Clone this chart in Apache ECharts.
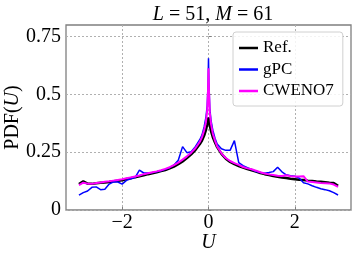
<!DOCTYPE html>
<html>
<head>
<meta charset="utf-8">
<script src="https://cdn.jsdelivr.net/npm/echarts@6/dist/echarts.min.js"></script>
<style>html,body{margin:0;padding:0;background:#fff}#c{width:354px;height:260px}</style>
</head>
<body>
<div id="c"></div>
<script>
const U = [-3.0,-2.9,-2.8,-2.7,-2.6,-2.5,-2.4,-2.3,-2.2,-2.1,-2.0,-1.9,-1.8,-1.7,-1.6,-1.5,-1.4,-1.3,-1.2,-1.1,-1.0,-0.9,-0.8,-0.7,-0.6,-0.5,-0.4,-0.3,-0.2,-0.15,-0.1,-0.06,-0.03,-0.01,0,0.01,0.03,0.06,0.1,0.15,0.2,0.3,0.4,0.5,0.6,0.7,0.8,0.9,1.0,1.1,1.2,1.3,1.4,1.5,1.6,1.7,1.8,1.9,2.0,2.1,2.2,2.3,2.4,2.5,2.6,2.7,2.8,2.9,3.0];
const refPDF = [0.112,0.124,0.114,0.113,0.116,0.118,0.119,0.121,0.124,0.126,0.129,0.134,0.137,0.142,0.146,0.150,0.155,0.159,0.163,0.168,0.173,0.180,0.188,0.198,0.210,0.225,0.241,0.260,0.285,0.300,0.322,0.345,0.370,0.390,0.400,0.390,0.365,0.340,0.315,0.292,0.272,0.243,0.222,0.208,0.198,0.190,0.183,0.177,0.172,0.166,0.160,0.155,0.151,0.147,0.144,0.141,0.138,0.135,0.133,0.131,0.130,0.127,0.125,0.123,0.122,0.120,0.118,0.117,0.105];
const gpcPDF = [0.064,0.075,0.082,0.098,0.100,0.088,0.090,0.112,0.122,0.121,0.112,0.128,0.135,0.140,0.172,0.160,0.160,0.162,0.165,0.170,0.176,0.183,0.195,0.215,0.274,0.248,0.252,0.275,0.305,0.325,0.360,0.400,0.450,0.550,0.656,0.550,0.440,0.385,0.345,0.310,0.285,0.265,0.258,0.258,0.300,0.205,0.192,0.183,0.175,0.166,0.162,0.159,0.162,0.166,0.185,0.165,0.152,0.148,0.146,0.138,0.118,0.113,0.105,0.098,0.092,0.088,0.083,0.075,0.065];
const cwenoPDF = [0.108,0.118,0.114,0.113,0.117,0.119,0.122,0.124,0.127,0.130,0.133,0.137,0.141,0.145,0.149,0.155,0.159,0.163,0.167,0.172,0.178,0.185,0.194,0.205,0.218,0.232,0.248,0.268,0.295,0.315,0.345,0.380,0.430,0.520,0.613,0.520,0.420,0.370,0.330,0.300,0.275,0.245,0.225,0.212,0.203,0.195,0.186,0.180,0.176,0.170,0.163,0.158,0.154,0.151,0.148,0.147,0.150,0.146,0.145,0.145,0.146,0.123,0.121,0.119,0.117,0.116,0.115,0.110,0.100];
const xTicks = [-2, 0, 2];
const yTicks = [0, 0.25, 0.5, 0.75];
const seriesNames = ['Ref.', 'gPC', 'CWENO7'];

const pair = (ys) => U.map((u, i) => [u, ys[i]]);
const font = 'Liberation Serif';
const fmtNum = v => String(v).replace('-', '\u2212');

const chart = echarts.init(document.getElementById('c'), null, {renderer: 'canvas'});
chart.setOption({
  animation: false,
  backgroundColor: '#fff',
  title: {
    text: '{i|L} = 51, {i|M} = 61',
    left: 208, top: 0, textAlign: 'center',
    textStyle: {fontFamily: font, fontSize: 20, fontWeight: 'normal', color: '#000',
      rich: {i: {fontFamily: font, fontStyle: 'italic', fontSize: 20}}}
  },
  grid: {left: 66, right: 3, top: 25, bottom: 50, show: true, borderColor: '#7f7f7f', borderWidth: 1.3, backgroundColor: 'transparent', containLabel: false, outerBoundsMode: 'none'},
  legend: {
    data: [
      {name: seriesNames[0], icon: 'rect', itemStyle: {color: '#000000'}},
      {name: seriesNames[1], icon: 'rect', itemStyle: {color: '#0000ff'}},
      {name: seriesNames[2], icon: 'rect', itemStyle: {color: '#ff00ff'}}
    ],
    orient: 'vertical', left: 233, top: 32,
    padding: [6, 9, 5, 6], itemGap: 1.5, itemWidth: 19, itemHeight: 2.5,
    backgroundColor: 'rgba(255,255,255,0.85)', borderColor: '#d0d0d0', borderWidth: 1, borderRadius: 3,
    textStyle: {fontFamily: font, fontSize: 17, color: '#000', lineHeight: 20}
  },
  xAxis: {
    type: 'value', min: -3.3, max: 3.3,
    name: 'U', nameLocation: 'middle', nameGap: 23, nameMoveOverlap: false,
    nameTextStyle: {fontFamily: font, fontSize: 20, fontStyle: 'italic', color: '#000'},
    axisLine: {show: false},
    axisTick: {show: true, inside: true, length: 3, customValues: xTicks, lineStyle: {color: '#7f7f7f'}},
    axisLabel: {customValues: xTicks, formatter: fmtNum, fontFamily: font, fontSize: 20, color: '#000', margin: 3},
    splitLine: {show: true, lineStyle: {color: '#b0b0b0', type: [2, 2], width: 1}}
  },
  yAxis: {
    type: 'value', min: 0, max: 0.8,
    name: '{n|PDF(}{i|U}{n|)}', nameLocation: 'middle', nameGap: 43, nameMoveOverlap: false,
    nameTextStyle: {fontFamily: font, fontSize: 20, color: '#000',
      rich: {n: {fontFamily: font, fontSize: 20}, i: {fontFamily: font, fontSize: 20, fontStyle: 'italic'}}},
    axisLine: {show: false},
    axisTick: {show: true, inside: true, length: 3, customValues: yTicks, lineStyle: {color: '#7f7f7f'}},
    axisLabel: {customValues: yTicks, formatter: v => String(v), fontFamily: font, fontSize: 20, color: '#000', margin: 5},
    splitLine: {show: true, lineStyle: {color: '#b0b0b0', type: [2, 2], width: 1}}
  },
  series: [
    {name: seriesNames[0], type: 'line', data: pair(refPDF), symbol: 'none', lineStyle: {color: '#000000', width: 2.5}, itemStyle: {color: '#000000'}},
    {name: seriesNames[1], type: 'line', data: pair(gpcPDF), symbol: 'none', lineStyle: {color: '#0000ff', width: 1.5}, itemStyle: {color: '#0000ff'}},
    {name: seriesNames[2], type: 'line', data: pair(cwenoPDF), symbol: 'none', lineStyle: {color: '#ff00ff', width: 2}, itemStyle: {color: '#ff00ff'}}
  ]
});
</script>
</body>
</html>
